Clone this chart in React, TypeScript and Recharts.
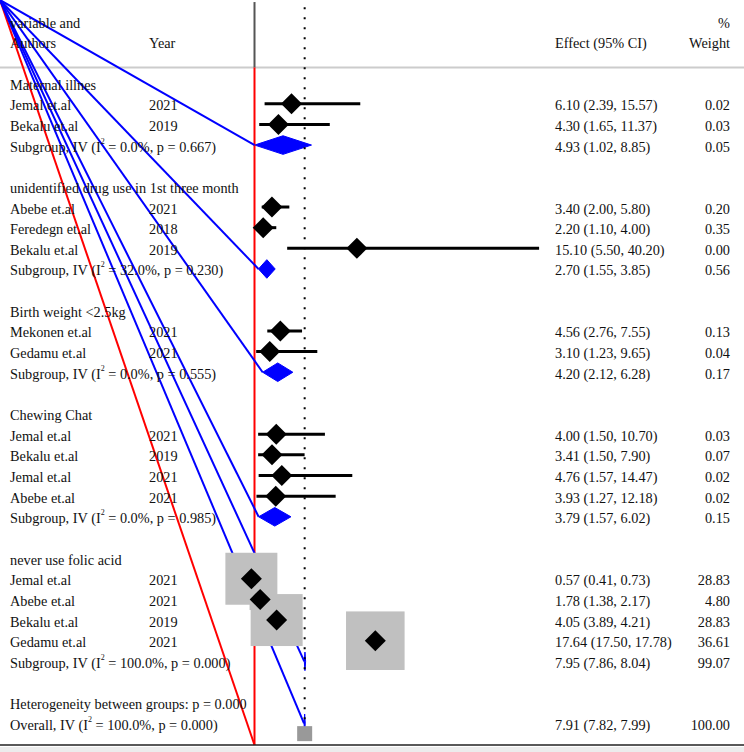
import { ComposedChart, XAxis, YAxis, Scatter, ReferenceLine, ReferenceArea } from 'recharts';

// subgroups
const groupNames = [
  'Maternal illnes',
  'unidentified drug use in 1st three month',
  'Birth weight <2.5kg',
  'Chewing Chat',
  'never use folic acid',
];
const subgroupI2 = ['0.0', '32.0', '0.0', '0.0', '100.0'];
const subgroupP = ['0.667', '0.230', '0.555', '0.985', '0.000'];
const subgroupEffect = [4.93, 2.7, 4.2, 3.79, 7.95];
const subgroupLower = [1.02, 1.55, 2.12, 1.57, 7.86];
const subgroupUpper = [8.85, 3.85, 6.28, 6.02, 8.04];
const subgroupWeight = [0.05, 0.56, 0.17, 0.15, 99.07];

// studies
const studyGroup = [0, 0, 1, 1, 1, 2, 2, 3, 3, 3, 3, 4, 4, 4, 4];
const studyAuthors = [
  'Jemal et.al', 'Bekalu et.al',
  'Abebe et.al', 'Feredegn et.al', 'Bekalu et.al',
  'Mekonen et.al', 'Gedamu et.al',
  'Jemal et.al', 'Bekalu et.al', 'Jemal et.al', 'Abebe et.al',
  'Jemal et.al', 'Abebe et.al', 'Bekalu et.al', 'Gedamu et.al',
];
const studyYears = [2021, 2019, 2021, 2018, 2019, 2021, 2021, 2021, 2019, 2021, 2021, 2021, 2021, 2019, 2021];
const studyEffect = [6.1, 4.3, 3.4, 2.2, 15.1, 4.56, 3.1, 4.0, 3.41, 4.76, 3.93, 0.57, 1.78, 4.05, 17.64];
const studyLower = [2.39, 1.65, 2.0, 1.1, 5.5, 2.76, 1.23, 1.5, 1.5, 1.57, 1.27, 0.41, 1.38, 3.89, 17.5];
const studyUpper = [15.57, 11.37, 5.8, 4.0, 40.2, 7.55, 9.65, 10.7, 7.9, 14.47, 12.18, 0.73, 2.17, 4.21, 17.78];
const studyWeight = [0.02, 0.03, 0.2, 0.35, 0.0, 0.13, 0.04, 0.03, 0.07, 0.02, 0.02, 28.83, 4.8, 28.83, 36.61];

// overall
const overallEffect = 7.91;
const overallLower = 7.82;
const overallUpper = 7.99;
const overallWeight = 100.0;
const heterogeneityP = '0.000';
const overallI2 = '100.0';
const overallP = '0.000';

const nullValue = 1;

// axis windows (data units)
const X_MIN = -34.055;
const X_MAX = 68.424;
const Y_MIN = -4.024;
const Y_MAX = 32.05;
const HEADER_LINE = -0.755;

const FONT = "'Liberation Serif', 'Times New Roman', serif";
const fmt = (v: number) => v.toFixed(2);

type Row = {
  x: number;
  y: number;
  kind: 'header' | 'group' | 'study' | 'sub' | 'het' | 'overall';
  label?: string;
  year?: string;
  effect?: string;
  weight?: string;
  i2?: string;
  p?: string;
};

const rows: Row[] = [];
const studyRows: { x: number; y: number; w: number; lo: number; hi: number }[] = [];
const subRows: { y: number; est: number; lo: number; hi: number }[] = [];

rows.push({ x: nullValue, y: -3, kind: 'header', label: 'variable and', weight: '%' });
rows.push({ x: nullValue, y: -2, kind: 'header', label: 'Authors', year: 'Year', effect: 'Effect (95% CI)', weight: 'Weight' });

let r = 0;
groupNames.forEach((g, gi) => {
  rows.push({ x: nullValue, y: r++, kind: 'group', label: g });
  studyGroup.forEach((sg, i) => {
    if (sg !== gi) return;
    rows.push({
      x: nullValue, y: r, kind: 'study', label: studyAuthors[i], year: String(studyYears[i]),
      effect: `${fmt(studyEffect[i])} (${fmt(studyLower[i])}, ${fmt(studyUpper[i])})`,
      weight: fmt(studyWeight[i]),
    });
    studyRows.push({ x: studyEffect[i], y: r, w: studyWeight[i], lo: studyLower[i], hi: studyUpper[i] });
    r++;
  });
  rows.push({
    x: nullValue, y: r, kind: 'sub', i2: subgroupI2[gi], p: subgroupP[gi],
    effect: `${fmt(subgroupEffect[gi])} (${fmt(subgroupLower[gi])}, ${fmt(subgroupUpper[gi])})`,
    weight: fmt(subgroupWeight[gi]),
  });
  subRows.push({ y: r, est: subgroupEffect[gi], lo: subgroupLower[gi], hi: subgroupUpper[gi] });
  r += 2;
});
rows.push({ x: nullValue, y: r++, kind: 'het', label: `Heterogeneity between groups: p = ${heterogeneityP}` });
const overallRow = r;
rows.push({
  x: nullValue, y: overallRow, kind: 'overall', i2: overallI2, p: overallP,
  effect: `${fmt(overallEffect)} (${fmt(overallLower)}, ${fmt(overallUpper)})`,
  weight: fmt(overallWeight),
});
subRows.push({ y: overallRow, est: overallEffect, lo: overallLower, hi: overallUpper });

const overallBox = [{ x: overallEffect, y: overallRow + 0.5 }];

const txt = { fontFamily: FONT, fontSize: 14.3, fill: '#111', dominantBaseline: 'central' as const };

function RowText(props: any) {
  const { payload } = props;
  const cy = props.cy + 1.5;
  const p = payload as Row;
  let label: any = p.label;
  if (p.kind === 'sub' || p.kind === 'overall') {
    label = (
      <>
        {p.kind === 'sub' ? 'Subgroup, IV (I' : 'Overall, IV (I'}
        <tspan dy={-6} fontSize={8}>2</tspan>
        <tspan dy={6}>{` = ${p.i2}%, p = ${p.p})`}</tspan>
      </>
    );
  }
  return (
    <g>
      {label && <text x={10} y={cy} {...txt}>{label}</text>}
      {p.year && <text x={149} y={cy} {...txt}>{p.year}</text>}
      {p.effect && <text x={555} y={cy} {...txt}>{p.effect}</text>}
      {p.weight && <text x={730} y={cy} textAnchor="end" {...txt}>{p.weight}</text>}
    </g>
  );
}

function WeightBox(props: any) {
  const { cx, cy, payload } = props;
  const s = 9.68 * Math.sqrt(payload.w);
  return <rect x={cx - s / 2} y={cy - s / 2} width={s} height={s} fill="#c0c0c0" />;
}

function OverallBox(props: any) {
  const { cx, cy } = props;
  return <rect x={cx - 7.5} y={cy - 7.5} width={15} height={15} fill="#999999" />;
}

function PointDiamond(props: any) {
  const { cx, cy } = props;
  const h = 10.5;
  return <polygon points={`${cx - h},${cy} ${cx},${cy - h} ${cx + h},${cy} ${cx},${cy + h}`} fill="#000" />;
}

const diamondShape = (frac: number) => (p: any) => {
  const { x, y, width, height } = p;
  const px = x + width * frac;
  return (
    <polygon
      points={`${x},${y + height / 2} ${px},${y} ${x + width},${y + height / 2} ${px},${y + height}`}
      fill="#0000ff"
      stroke="#0000ff"
      strokeWidth={1}
    />
  );
};

export default function App() {
  return (
    <div
      style={{
        position: 'fixed',
        left: 0,
        top: 0,
        width: 744,
        height: 752,
        background: 'linear-gradient(to bottom, #fff 0px, #fff 747px, #ececec 747px)',
      }}
    >
      <ComposedChart width={744} height={752} margin={{ top: 0, right: 0, bottom: 0, left: 0 }}>
        <XAxis
          type="number"
          dataKey="x"
          domain={[X_MIN, X_MAX]}
          allowDataOverflow
          ticks={[nullValue, overallEffect]}
          tick={false}
          tickSize={5}
          height={7}
          stroke="#222"
          strokeWidth={1.5}
        />
        <YAxis type="number" dataKey="y" domain={[Y_MIN, Y_MAX]} reversed allowDataOverflow hide width={0} />

        <Scatter data={rows} shape={RowText} isAnimationActive={false} />
        <Scatter data={studyRows} shape={WeightBox} isAnimationActive={false} />
        <Scatter data={overallBox} shape={OverallBox} isAnimationActive={false} />

        <ReferenceLine y={HEADER_LINE} stroke="#cccccc" strokeWidth={2} ifOverflow="visible" />
        <ReferenceLine
          segment={[{ x: nullValue, y: Y_MIN + 0.1 }, { x: nullValue, y: HEADER_LINE }]}
          stroke="#555"
          strokeWidth={2}
          ifOverflow="visible"
        />
        <ReferenceLine
          segment={[{ x: overallEffect, y: Y_MIN + 0.35 }, { x: overallEffect, y: Y_MAX }]}
          stroke="#000"
          strokeWidth={2}
          strokeDasharray="2 8"
          ifOverflow="visible"
        />
        {studyRows.map((s, i) => (
          <ReferenceLine
            key={`ci${i}`}
            segment={[{ x: s.lo, y: s.y }, { x: s.hi, y: s.y }]}
            stroke="#000"
            strokeWidth={3}
            ifOverflow="visible"
          />
        ))}
        <ReferenceLine
          segment={[{ x: nullValue, y: HEADER_LINE }, { x: nullValue, y: Y_MAX }]}
          stroke="#ff0000"
          strokeWidth={2}
          ifOverflow="visible"
        />
        <ReferenceLine
          segment={[{ x: X_MIN, y: Y_MIN }, { x: nullValue, y: Y_MAX }]}
          stroke="#ff0000"
          strokeWidth={2}
          ifOverflow="visible"
        />
        {subRows.map((s, i) => (
          <ReferenceLine
            key={`bl${i}`}
            segment={[{ x: X_MIN, y: Y_MIN }, { x: s.lo, y: s.y }]}
            stroke="#0000ff"
            strokeWidth={2}
            ifOverflow="visible"
          />
        ))}
        {subRows.map((s, i) => (
          <ReferenceArea
            key={`dm${i}`}
            x1={s.lo}
            x2={s.hi}
            y1={s.y - 0.45}
            y2={s.y + 0.45}
            ifOverflow="visible"
            shape={diamondShape((s.est - s.lo) / (s.hi - s.lo))}
          />
        ))}
        <Scatter data={studyRows} shape={PointDiamond} isAnimationActive={false} />
      </ComposedChart>
    </div>
  );
}
